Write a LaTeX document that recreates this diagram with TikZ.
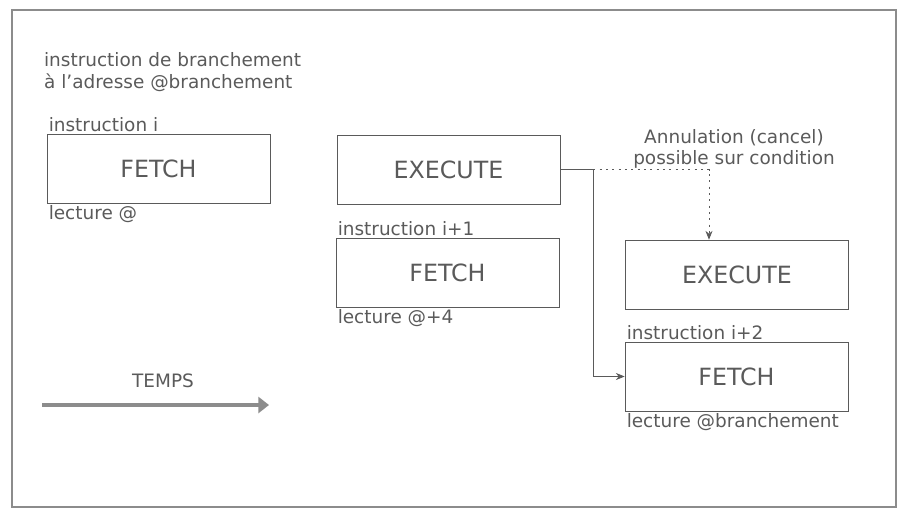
\documentclass[tikz,border=0pt]{standalone}
\usepackage{fontspec}
\setmainfont{DejaVu Sans}
\usepackage{tikz}
\usetikzlibrary{positioning, arrows.meta, calc}
\definecolor{ink}{RGB}{90,90,90}
\definecolor{frame}{RGB}{140,140,140}

\tikzset{
  stage/.style={draw=ink, thin, minimum width=4.46cm, minimum height=1.38cm,
                font=\fontsize{13.5}{16}\selectfont, text=ink},
  tag/.style={font=\fontsize{10.5}{12}\selectfont, text=ink, inner sep=1pt},
  link/.style={draw=ink, thin, -{Stealth[length=5pt, width=4pt]}}
}

\begin{document}
\begin{tikzpicture}
        \useasboundingbox (0,0) rectangle (17.98,-10.32);
        % outer frame
        \draw[frame, line width=1.3pt] (0.24,-0.2) rectangle (17.92,-10.14);

        \node[tag, anchor=north west, align=left] (head) at (0.84,-1.0)
          {instruction de branchement\\[1pt] à l'adresse @branchement};

        % pipeline stages
        \node[stage] (fetchA) at (3.17,-3.37) {FETCH};
        \node[stage] (execA)  at (8.97,-3.39) {EXECUTE};
        \node[stage] (fetchB) at (8.95,-5.45) {FETCH};
        \node[stage] (execB)  at (14.74,-5.49) {EXECUTE};
        \node[stage] (fetchC) at (14.73,-7.53) {FETCH};

        % labels above / below the stages
        \node[tag, anchor=south west] (insA) at (fetchA.north west) {instruction i};
        \node[tag, anchor=north west] (lecA) at (fetchA.south west) {lecture @};
        \node[tag, anchor=south west] (insB) at (fetchB.north west) {instruction i+1};
        \node[tag, anchor=north west] (lecB) at (fetchB.south west) {lecture @+4};
        \node[tag, anchor=south west] (insC) at (fetchC.north west) {instruction i+2};
        \node[tag, anchor=north west] (lecC) at (fetchC.south west) {lecture @branchement};

        \node[tag, align=center] (cancel) at (14.68,-2.98)
          {Annulation (cancel)\\possible sur condition};

        % branch taken / cancel paths
        \coordinate (fork) at ($(execA.east)+(0.66,0)$);
        \draw[link] (execA.east) -- (fork) |- (fetchC.west);
        \draw[link, dash pattern=on 1.2pt off 2.4pt] (fork) -| ([xshift=-0.56cm]execB.north);

        % time axis
        \coordinate (t0) at (0.84,-8.1);
        \coordinate (t1) at (5.38,-8.1);
        \draw[frame, line width=2.2pt, -{Triangle[length=6pt, width=9pt]}] (t0) -- (t1);
        \node[tag] (temps) at (3.26,-7.62) {TEMPS};
\end{tikzpicture}
\end{document}
